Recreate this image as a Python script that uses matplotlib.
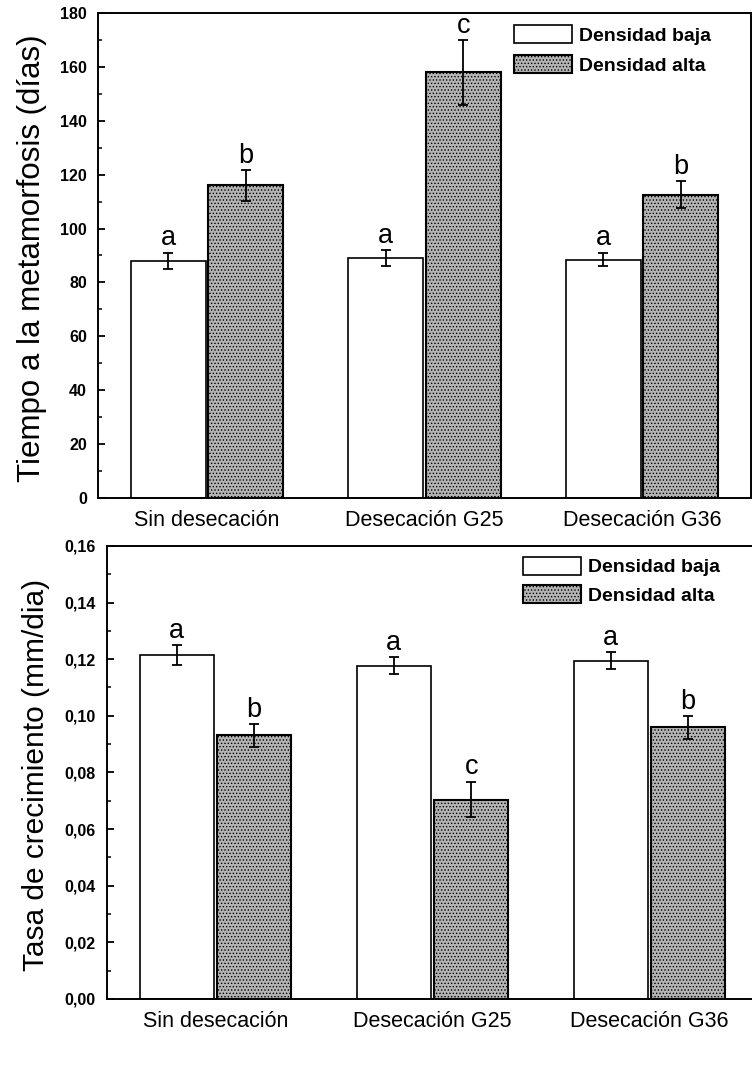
import matplotlib
matplotlib.use('Agg')
import matplotlib.pyplot as plt
import numpy as np
from matplotlib.ticker import FixedLocator, MultipleLocator

plt.rcParams['font.family'] = ['Liberation Sans', 'DejaVu Sans']
plt.rcParams['hatch.linewidth'] = 0.6

# ---------------- data ----------------
categories = ['Sin desecación', 'Desecación G25', 'Desecación G36']
series_names = ['Densidad baja', 'Densidad alta']

tiempo_baja = [88, 89, 88.5]
tiempo_baja_err = [3, 3, 2.5]
tiempo_alta = [116, 158, 112.5]
tiempo_alta_err = [5.7, 12, 5]
tiempo_letras_baja = ['a', 'a', 'a']
tiempo_letras_alta = ['b', 'c', 'b']
tiempo_ticks = [0, 20, 40, 60, 80, 100, 120, 140, 160, 180]
tiempo_ticklabels = ['0', '20', '40', '60', '80', '100', '120', '140', '160', '180']
tiempo_ylabel = 'Tiempo a la metamorfosis (días)'

tasa_baja = [0.1215, 0.1176, 0.1194]
tasa_baja_err = [0.0035, 0.003, 0.003]
tasa_alta = [0.0931, 0.0704, 0.0959]
tasa_alta_err = [0.004, 0.0063, 0.004]
tasa_letras_baja = ['a', 'a', 'a']
tasa_letras_alta = ['b', 'c', 'b']
tasa_ticks = [0.00, 0.02, 0.04, 0.06, 0.08, 0.10, 0.12, 0.14, 0.16]
tasa_ticklabels = ['0,00', '0,02', '0,04', '0,06', '0,08', '0,10', '0,12', '0,14', '0,16']
tasa_ylabel = 'Tasa de crecimiento (mm/dia)'

GRAY = '#b4b4b4'

fig = plt.figure(figsize=(7.52, 10.65), dpi=100)
ax1 = fig.add_axes([0.1303, 0.5324, 0.8684, 0.4554])
ax2 = fig.add_axes([0.1423, 0.0620, 0.8657, 0.4254])


def panel(ax, baja, baja_err, alta, alta_err, lb, la, ticks, ticklabels,
          minor, ylabel, ylabel_fs, label_xy, leg_xy, leg_spacing, show_right):
    x = np.arange(len(categories))
    off, w = 0.178, 0.344
    ax.bar(x - off, baja, width=w, color='white', edgecolor='black',
           linewidth=1.2, label=series_names[0], zorder=2)
    ax.bar(x + off, alta, width=w, color=GRAY, edgecolor='black', hatch='.....',
           linewidth=1.5, label=series_names[1], zorder=2)
    for xs, vals, errs in ((x - off, baja, baja_err), (x + off, alta, alta_err)):
        ax.errorbar(xs, vals, yerr=errs, fmt='none', ecolor='black',
                    elinewidth=1.3, capsize=3.8, capthick=1.3, zorder=3)
    for xs, vals, errs, labs in ((x - off, baja, baja_err, lb), (x + off, alta, alta_err, la)):
        for xi, v, e, t in zip(xs, vals, errs, labs):
            ax.annotate(t, (xi, v + e), xytext=(0, 1.0), textcoords='offset points',
                        ha='center', va='bottom', fontsize=19.5)
    ax.set_xlim(-0.5, 2.5)
    ax.set_ylim(ticks[0], ticks[-1])
    ax.yaxis.set_major_locator(FixedLocator(ticks))
    ax.set_yticklabels(ticklabels, fontsize=11.5, fontweight='bold')
    ax.yaxis.set_minor_locator(MultipleLocator(minor))
    ax.tick_params(axis='y', which='major', direction='in', length=5, width=1.3, pad=8)
    ax.tick_params(axis='y', which='minor', direction='in', length=3, width=1.1)
    ax.set_xticks(x)
    ax.set_xticklabels(categories, fontsize=15.5)
    ax.tick_params(axis='x', length=0, pad=9)
    ax.set_ylabel(ylabel, fontsize=ylabel_fs)
    ax.yaxis.set_label_coords(*label_xy)
    for s in ax.spines.values():
        s.set_linewidth(1.4)
    ax.spines['right'].set_visible(show_right)
    ax.legend(loc='upper left', bbox_to_anchor=leg_xy, frameon=False,
              prop={'weight': 'bold', 'size': 14},
              handlelength=3.0, handleheight=1.05, labelspacing=leg_spacing,
              handletextpad=0.35, borderpad=0, borderaxespad=0)


panel(ax1, tiempo_baja, tiempo_baja_err, tiempo_alta, tiempo_alta_err,
      tiempo_letras_baja, tiempo_letras_alta, tiempo_ticks, tiempo_ticklabels,
      10, tiempo_ylabel, 22.5, (-0.078, 0.495), (0.637, 0.975), 0.55, True)
panel(ax2, tasa_baja, tasa_baja_err, tasa_alta, tasa_alta_err,
      tasa_letras_baja, tasa_letras_alta, tasa_ticks, tasa_ticklabels,
      0.01, tasa_ylabel, 21.5, (-0.088, 0.494), (0.639, 0.976), 0.45, False)

fig.savefig('out.png', dpi=100)
